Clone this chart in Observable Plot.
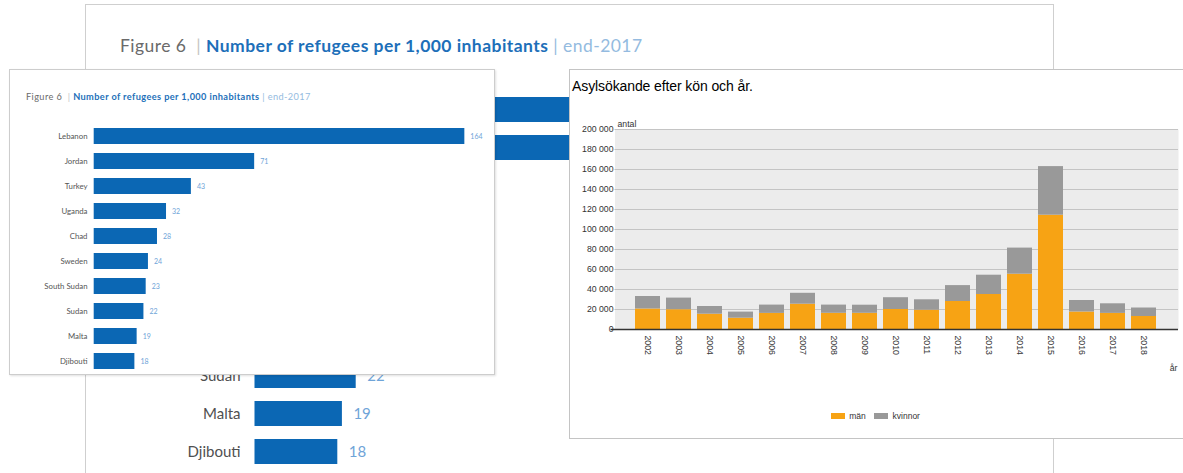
<!DOCTYPE html>
<html><head><meta charset="utf-8">
<script src="https://cdn.jsdelivr.net/npm/d3@7"></script>
<script src="https://cdn.jsdelivr.net/npm/@observablehq/plot@0.6"></script>
<style>
html,body{margin:0;padding:0;background:#fff;}
#stage{position:relative;width:1183px;height:473px;overflow:hidden;background:#fff;}
.abs{position:absolute;}
.layer{position:absolute;left:0;top:0;}
#bigframe{left:85px;top:4px;width:969px;height:600px;border:1px solid #cfcfcf;box-sizing:border-box;background:#fff;}
#bigtitle{left:120px;top:35.5px;font:17.5px/20px Lato,sans-serif;letter-spacing:0.45px;white-space:nowrap;}
#smallpanel{left:9px;top:69px;width:486px;height:306px;border:1px solid #cdcdcd;box-sizing:border-box;background:#fff;box-shadow:1px 1px 2px rgba(0,0,0,0.12);}
#smalltitle{left:26px;top:91.6px;font:9.2px/10px Lato,sans-serif;letter-spacing:0.4px;white-space:nowrap;}
#rightpanel{left:569px;top:69px;width:640px;height:370px;border:1px solid #c4c4c4;box-sizing:border-box;background:#fff;}
#righttitle{left:572px;top:77.9px;font:14px/16px "Liberation Sans",Arial,sans-serif;color:#000;white-space:nowrap;letter-spacing:-0.1px;}
#legend{left:831px;top:399.5px;}
</style></head><body>
<div id="stage">
  <div id="bigframe" class="abs"></div>
  <div id="bigtitle" class="abs"><span style="color:#6a6a6a">Figure 6</span><span style="color:#c4c4c4">&nbsp;&nbsp;| </span><span style="color:#1d6fb9;font-weight:700">Number of refugees per 1,000 inhabitants</span><span style="color:#94bbe0"> | end-2017</span></div>
  <div id="biglayer" class="layer"></div>
  <div id="smallpanel" class="abs"></div>
  <div id="smalltitle" class="abs"><span style="color:#6a6a6a">Figure 6</span><span style="color:#c4c4c4">&nbsp;&nbsp;| </span><span style="color:#1d6fb9;font-weight:700">Number of refugees per 1,000 inhabitants</span><span style="color:#94bbe0"> | end-2017</span></div>
  <div id="smalllayer" class="layer"></div>
  <div id="rightpanel" class="abs"></div>
  <div id="righttitle" class="abs">Asylsökande efter kön och år.</div>
  <div id="rightlayer" class="layer"></div>
  <div id="legend" class="abs"></div>
</div>
<script>
// ---- Data: refugees per 1,000 inhabitants, end-2017
const countries = ["Lebanon","Jordan","Turkey","Uganda","Chad","Sweden","South Sudan","Sudan","Malta","Djibouti"];
const refugeesPer1000 = [164,71,43,32,28,24,23,22,19,18];

// ---- Data: asylsökande efter kön och år
const years = ["2002","2003","2004","2005","2006","2007","2008","2009","2010","2011","2012","2013","2014","2015","2016","2017","2018"];
const man = [20500,19800,15300,11300,16100,25300,16200,16200,20000,19300,28000,35000,55300,114300,17500,16100,13000];
const kvinnor = [12500,11600,7700,6100,8300,10900,8200,8100,11800,10400,15900,19300,26100,48600,11500,9600,8500];
const genders = ["män","kvinnor"];
const yTicks = [0,20000,40000,60000,80000,100000,120000,140000,160000,180000,200000];

const BLUE = "#0b67b4";
const VALUE_BLUE = "#6fa4d8";
const ORANGE = "#f7a314";
const GRAY = "#999999";

const refugees = countries.map((c, i) => ({country: c, value: refugeesPer1000[i]}));
const asyl = [];
years.forEach((y, i) => {
  asyl.push({year: y, gender: "män", value: man[i]});
  asyl.push({year: y, gender: "kvinnor", value: kvinnor[i]});
});

const W = 1183, H = 473;
const transparent = {background: "transparent", overflow: "visible"};

// ---- Big background figure
const big = Plot.plot({
  width: W, height: H,
  marginLeft: 254.5, marginRight: 174, marginTop: 0, marginBottom: 0,
  style: {...transparent, fontFamily: "Lato, sans-serif", fontSize: "15px", color: "#505050"},
  x: {domain: [0, 164], range: [254.5, 254.5 + 164 * 4.6], axis: null},
  y: {domain: countries, range: [80.7, 480.9], padding: 0.35, tickSize: 0, tickPadding: 14.5, label: null},
  marks: [
    Plot.barX(refugees, {x: "value", y: "country", fill: BLUE}),
    Plot.text(refugees, {x: "value", y: "country", text: d => String(d.value), dx: 11, textAnchor: "start", fill: VALUE_BLUE, fontSize: 15})
  ]
});
document.getElementById("biglayer").appendChild(big);

// ---- Small front figure
const small = Plot.plot({
  width: W, height: H,
  marginLeft: 93.7, marginRight: 700, marginTop: 0, marginBottom: 0,
  style: {...transparent, fontFamily: "Lato, sans-serif", fontSize: "7.8px", color: "#555"},
  x: {domain: [0, 164], range: [93.7, 93.7 + 164 * 2.26], axis: null},
  y: {domain: countries, range: [119.1, 378.4], padding: 0.37, tickSize: 0, tickPadding: 6.7, label: null},
  marks: [
    Plot.barX(refugees, {x: "value", y: "country", fill: BLUE}),
    Plot.text(refugees, {x: "value", y: "country", text: d => String(d.value), dx: 5.5, textAnchor: "start", fill: VALUE_BLUE, fontSize: 7})
  ]
});
document.getElementById("smalllayer").appendChild(small);

// ---- Right figure: asylum seekers
const locale = d3.formatLocale({decimal: ",", thousands: " ", grouping: [3], currency: ["", ""]});
const fmt = locale.format(",d");
const right = Plot.plot({
  width: W, height: H,
  marginLeft: 614.5, marginRight: 5, marginTop: 129, marginBottom: 144,
  style: {...transparent, fontFamily: "'Liberation Sans', Arial, sans-serif", fontSize: "8.7px", color: "#333"},
  x: {domain: years, range: [627.1, 1163.9], padding: 0.2, tickSize: 0, tickPadding: 6, tickRotate: 90, label: null},
  y: {domain: [0, 200000], ticks: yTicks, tickFormat: fmt, tickSize: 0, tickPadding: 1.5, label: null},
  color: {domain: genders, range: [ORANGE, GRAY]},
  marks: [
    Plot.frame({fill: "#ececec", stroke: "none"}),
    Plot.ruleY(yTicks.filter(t => t > 0), {stroke: "#c4c4c4", strokeWidth: 1}),
    Plot.barY(asyl, Plot.stackY({x: "year", y: "value", fill: "gender", order: genders})),
    Plot.ruleY([0], {stroke: "#333", strokeWidth: 1.5, insetLeft: -4}),
    Plot.text(["antal"], {frameAnchor: "top-left", text: d => d, dx: 2.5, dy: -8.5, textAnchor: "start", fill: "#333"}),
    Plot.text(["år"], {frameAnchor: "bottom-right", text: d => d, dx: -1, dy: 41, textAnchor: "end", fill: "#333"})
  ]
});
document.getElementById("rightlayer").appendChild(right);

const leg = Plot.legend({
  color: {domain: genders, range: [ORANGE, GRAY]},
  swatchWidth: 14, swatchHeight: 6,
  style: {fontFamily: "'Liberation Sans', Arial, sans-serif", fontSize: "8.5px", color: "#333", margin: "0"}
});
document.getElementById("legend").appendChild(leg);
</script>
</body></html>
